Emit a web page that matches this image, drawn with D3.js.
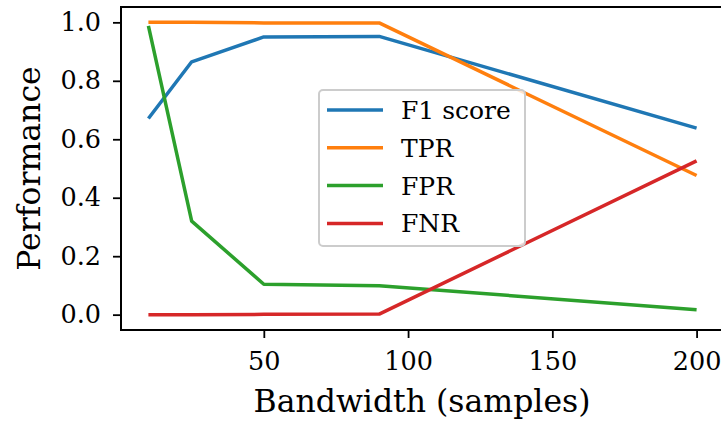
<!DOCTYPE html>
<html>
<head>
<meta charset="utf-8">
<script src="https://cdn.jsdelivr.net/npm/d3@7"></script>
<style>
  body { margin: 0; background: #fff; }
  svg text { font-family: "DejaVu Serif", serif; fill: #000; }
</style>
</head>
<body>
<div id="chart"></div>
<script>
// bandwidth values (samples)
var bandwidths = [10, 25, 50, 90, 200];
var seriesNames = ["F1 score", "TPR", "FPR", "FNR"];
var f1Score = [0.671, 0.865, 0.950, 0.952, 0.638];
var tpr = [1.000, 1.000, 0.998, 0.998, 0.476];
var fpr = [0.988, 0.320, 0.104, 0.099, 0.017];
var fnr = [0.000, 0.000, 0.001, 0.002, 0.526];
var colors = ["#1f77b4", "#ff7f0e", "#2ca02c", "#d62728"];
var xTicks = [50, 100, 150, 200];
var yTicks = [0.0, 0.2, 0.4, 0.6, 0.8, 1.0];

var W = 721, H = 423;
var plot = { left: 121, top: 7, right: 724, bottom: 330 };

var svg = d3.select("#chart").append("svg")
    .attr("width", W)
    .attr("height", H);

var x = d3.scaleLinear().domain([0.5, 209.5]).range([plot.left, plot.right]);
var y = d3.scaleLinear().domain([-0.0525, 1.0525]).range([plot.bottom, plot.top]);

var allSeries = [f1Score, tpr, fpr, fnr].map(function(vals, i){
  return {
    name: seriesNames[i],
    color: colors[i],
    points: vals.map(function(v, j){ return { x: bandwidths[j], y: v }; })
  };
});

var line = d3.line()
    .x(function(d){ return x(d.x); })
    .y(function(d){ return y(d.y); });

svg.append("clipPath").attr("id", "clip")
  .append("rect")
  .attr("x", plot.left).attr("y", plot.top)
  .attr("width", plot.right - plot.left).attr("height", plot.bottom - plot.top);

svg.append("g")
  .attr("clip-path", "url(#clip)")
  .selectAll("path.series").data(allSeries).enter()
  .append("path")
  .classed("series", true)
  .attr("d", function(d){ return line(d.points); })
  .attr("fill", "none")
  .attr("stroke", function(d){ return d.color; })
  .attr("stroke-width", 3.5)
  .attr("stroke-linejoin", "round")
  .attr("stroke-linecap", "butt");

// axes
var xAxis = svg.append("g")
  .attr("transform", "translate(0," + plot.bottom + ")")
  .call(d3.axisBottom(x).tickValues(xTicks).tickSize(8).tickPadding(14).tickFormat(d3.format("d")));
var yAxis = svg.append("g")
  .attr("transform", "translate(" + plot.left + ",0)")
  .call(d3.axisLeft(y).tickValues(yTicks).tickSize(8).tickPadding(12).tickFormat(d3.format(".1f")));

[xAxis, yAxis].forEach(function(ax){
  ax.select(".domain").remove();
  ax.selectAll(".tick line").attr("stroke", "#000").attr("stroke-width", 1.8);
  ax.selectAll(".tick text")
    .style("font-family", "DejaVu Serif, serif")
    .style("font-size", "25.5px")
    .attr("fill", "#000");
});

// spines
svg.append("rect")
  .attr("x", plot.left).attr("y", plot.top)
  .attr("width", plot.right - plot.left).attr("height", plot.bottom - plot.top)
  .attr("fill", "none")
  .attr("stroke", "#000")
  .attr("stroke-width", 2);

// axis labels
svg.append("text")
  .attr("x", 422)
  .attr("y", 412)
  .attr("text-anchor", "middle")
  .style("font-size", "31.5px")
  .text("Bandwidth (samples)");

svg.append("text")
  .attr("transform", "translate(40," + ((plot.top + plot.bottom) / 2) + ") rotate(-90)")
  .attr("text-anchor", "middle")
  .style("font-size", "31.5px")
  .text("Performance");

// legend
var leg = svg.append("g").attr("transform", "translate(319,90)");
leg.append("rect")
  .attr("x", 0).attr("y", 0)
  .attr("width", 206).attr("height", 156)
  .attr("rx", 4).attr("ry", 4)
  .attr("fill", "#fff").attr("fill-opacity", 0.8)
  .attr("stroke", "#cccccc").attr("stroke-width", 2);

var items = leg.selectAll("g.item").data(allSeries).enter()
  .append("g").classed("item", true)
  .attr("transform", function(d, i){ return "translate(0," + (20 + i * 37.8) + ")"; });
items.append("line")
  .attr("x1", 8).attr("x2", 64)
  .attr("y1", 0).attr("y2", 0)
  .attr("stroke", function(d){ return d.color; })
  .attr("stroke-width", 3.5);
items.append("text")
  .attr("x", 82).attr("y", 9)
  .style("font-size", "25px")
  .text(function(d){ return d.name; });
</script>
</body>
</html>
